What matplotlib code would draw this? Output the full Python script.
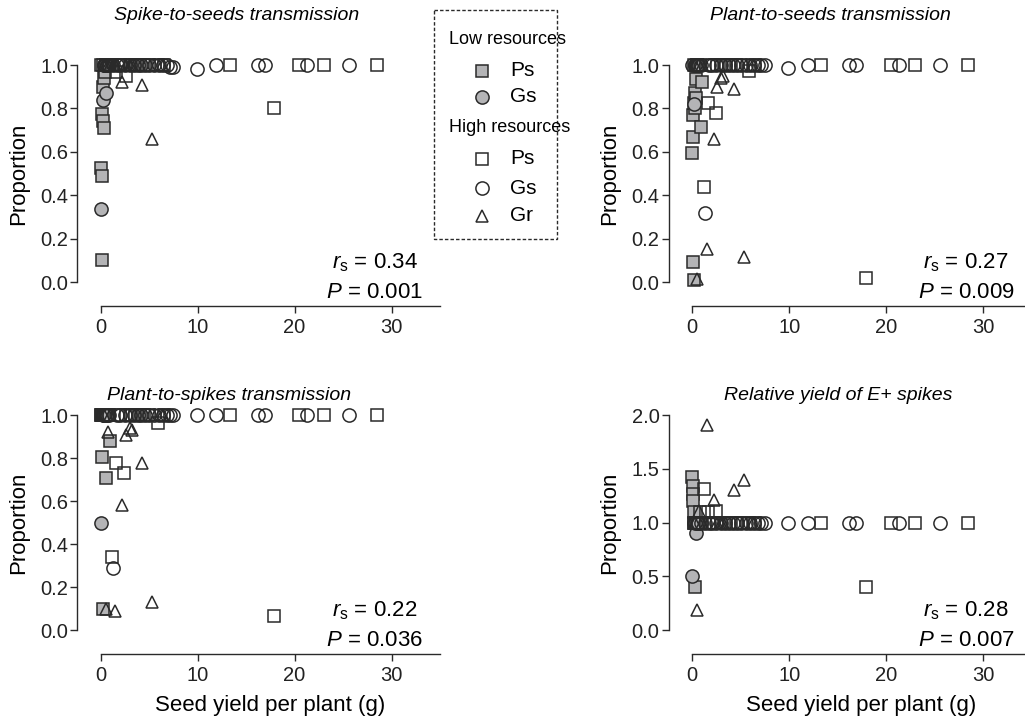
import matplotlib
matplotlib.use('Agg')
import matplotlib.pyplot as plt
from matplotlib.patches import Rectangle
from matplotlib.ticker import FormatStrFormatter

plt.rcParams['font.family'] = ['Liberation Sans', 'DejaVu Sans']
plt.rcParams['mathtext.fontset'] = 'custom'
plt.rcParams['mathtext.rm'] = 'Liberation Sans'
plt.rcParams['mathtext.it'] = 'Liberation Sans:italic'

# seed yield per plant (g), one entry per plant in each group
low_ps_x = [0.0, 0.05, 0.1, 0.1, 0.15, 0.2, 0.25, 0.3, 0.35, 0.4, 0.5, 0.6, 0.9, 1.0]
low_gs_x = [0.0, 0.2, 0.3, 0.4, 0.5, 0.6]
high_ps_x = [0.2, 0.5, 0.8, 1.2, 1.6, 2.0, 2.4, 2.6, 3.0, 3.5, 4.0, 4.5, 5.0, 5.9, 6.5,
             13.3, 17.9, 20.5, 23.0, 28.5]
high_gs_x = [0.3, 0.6, 0.9, 1.3, 1.7, 2.0, 2.5, 3.0, 3.4, 3.8, 4.2, 4.6, 5.0, 5.5, 6.0,
             6.4, 6.8, 7.1, 7.5, 9.9, 11.9, 16.2, 16.9, 21.3, 25.6]
high_gr_x = [0.3, 0.5, 0.7, 1.0, 1.5, 2.2, 2.6, 3.0, 3.2, 4.3, 5.3, 6.3]

# spike-to-seeds transmission
p1_low_ps = [1, 0.525, 0.775, 0.49, 0.10, 0.74, 0.90, 0.71, 0.94, 0.97, 1, 1, 1, 1]
p1_low_gs = [0.336, 0.84, 1, 1, 0.87, 1]
p1_high_ps = [1, 1, 1, 1, 0.97, 1, 1, 0.95, 1, 1, 1, 1, 1, 1, 1, 1, 0.80, 1, 1, 1]
p1_high_gs = [1] * 17 + [0.99, 0.99, 0.98, 1, 1, 1, 1, 1]
p1_high_gr = [1, 1, 1, 1, 1, 0.92, 1, 1, 1, 0.91, 0.66, 1]

# plant-to-seeds transmission
p2_low_ps = [0.594, 0.67, 0.77, 0.094, 0.825, 0.01, 0.80, 0.87, 0.934, 0.847, 1, 1, 0.714, 0.92]
p2_low_gs = [1, 0.82, 1, 1, 1, 1]
p2_high_ps = [1, 1, 1, 0.44, 0.825, 1, 0.78, 1, 1, 1, 1, 1, 1, 0.974, 1, 1, 0.02, 1, 1, 1]
p2_high_gs = [1, 1, 1, 0.32] + [1] * 15 + [0.985, 1, 1, 1, 1, 1]
p2_high_gr = [1, 0.014, 1, 1, 0.15, 0.66, 0.90, 0.94, 0.95, 0.89, 0.117, 1]

# plant-to-spikes transmission
p3_low_ps = [1, 1, 0.806, 1, 1, 1, 0.10, 1, 1, 1, 0.707, 1, 1, 0.879]
p3_low_gs = [0.50, 1, 1, 1, 1, 1]
p3_high_ps = [1, 1, 1, 0.34, 0.778, 1, 0.73, 1, 1, 1, 1, 1, 1, 0.964, 1, 1, 0.065, 1, 1, 1]
p3_high_gs = [1, 1, 1, 0.29] + [1] * 21
p3_high_gr = [1, 0.10, 0.92, 1, 0.09, 0.58, 0.907, 0.94, 0.93, 0.776, 0.13, 1]

# relative yield of E+ spikes
p4_low_ps = [1.42, 1.34, 1.27, 1.2, 1.1, 1, 1, 0.40, 1, 1, 1, 1, 1, 1]
p4_low_gs = [0.50, 1, 1, 0.90, 1, 1]
p4_high_ps = [1, 1, 1.1, 1.31, 1.1, 1, 1.11, 1, 1, 1, 1, 1, 1, 1, 1, 1, 0.40, 1, 1, 1]
p4_high_gs = [1] * 25
p4_high_gr = [1, 0.19, 1.11, 1, 1.91, 1.21, 1, 1, 1, 1.30, 1.40, 1]

titles = ['Spike-to-seeds transmission', 'Plant-to-seeds transmission',
          'Plant-to-spikes transmission', 'Relative yield of E+ spikes']
r_s = ['0.34', '0.27', '0.22', '0.28']
p_vals = ['0.001', '0.009', '0.036', '0.007']

panels = [
    (p1_low_ps, p1_low_gs, p1_high_ps, p1_high_gs, p1_high_gr),
    (p2_low_ps, p2_low_gs, p2_high_ps, p2_high_gs, p2_high_gr),
    (p3_low_ps, p3_low_gs, p3_high_ps, p3_high_gs, p3_high_gr),
    (p4_low_ps, p4_low_gs, p4_high_ps, p4_high_gs, p4_high_gr),
]

GRAY = '#b4b4b6'
EDGE = '#2a2a2a'
styles = [
    dict(marker='s', ms=9, mfc=GRAY, mec=EDGE),
    dict(marker='o', ms=9.5, mfc=GRAY, mec=EDGE),
    dict(marker='s', ms=9, mfc='none', mec=EDGE),
    dict(marker='o', ms=9.5, mfc='none', mec=EDGE),
    dict(marker='^', ms=9, mfc='none', mec=EDGE),
]
xs = [low_ps_x, low_gs_x, high_ps_x, high_gs_x, high_gr_x]

fig = plt.figure(figsize=(10.25, 7.18), dpi=100)
W, H = 1025.0, 718.0
rects = [
    (77, 305.9, 251.7),
    (668.5, 305.9, 251.7),
    (77, 653.7, 249.4),
    (668.5, 653.7, 249.4),
]
title_y = [15, 15, 395, 395]
title_x = [0.44, 0.445, 0.42, 0.467]

for i, (left, bot, hgt) in enumerate(rects):
    ax = fig.add_axes([left / W, (H - bot) / H, 363 / W, hgt / H])
    for x, y, st in zip(xs, panels[i], styles):
        ax.plot(x, y, linestyle='none', mew=1.1, clip_on=False, **st)
    ax.set_xlim(-2.45, 35)
    if i == 3:
        ax.set_ylim(-0.22, 2.1)
        ax.set_yticks([0, 0.5, 1.0, 1.5, 2.0])
        ax.spines['left'].set_bounds(0, 2)
    else:
        ax.set_ylim(-0.11, 1.05)
        ax.set_yticks([0, 0.2, 0.4, 0.6, 0.8, 1.0])
        ax.spines['left'].set_bounds(0, 1)
    ax.yaxis.set_major_formatter(FormatStrFormatter('%.1f'))
    ax.set_xticks([0, 10, 20, 30])
    ax.spines['bottom'].set_bounds(0, 35)
    ax.spines['top'].set_visible(False)
    ax.spines['right'].set_visible(False)
    for s in ('left', 'bottom'):
        ax.spines[s].set_linewidth(1.0)
        ax.spines[s].set_color(EDGE)
    ax.tick_params(axis='both', direction='out', length=5, width=1.0, color=EDGE,
                   labelsize=14.5, labelcolor='#222222')
    ax.tick_params(axis='x', pad=3.5)
    ax.tick_params(axis='y', pad=1.5)
    ax.set_ylabel('Proportion', fontsize=16)
    ax.yaxis.set_label_coords(-0.132, 0.526)
    if i >= 2:
        ax.set_xlabel('Seed yield per plant (g)', fontsize=16)
        ax.xaxis.set_label_coords(0.532, -0.166)
    ty = 1 + (bot - hgt - title_y[i]) / hgt
    ax.text(title_x[i], ty, titles[i], transform=ax.transAxes, ha='center', va='center',
            fontsize=14, style='italic')
    ax.text(0.82, 0.172, r'$r_{\rm s}$ = ' + r_s[i], transform=ax.transAxes,
            ha='center', va='center', fontsize=16)
    ax.text(0.82, 0.053, r'$P$ = ' + p_vals[i], transform=ax.transAxes,
            ha='center', va='center', fontsize=16)

# legend box
lg = fig.add_axes([434 / W, (H - 240) / H, 123 / W, 228 / H])
lg.set_xlim(434, 557)
lg.set_ylim(240, 12)
lg.axis('off')
lg.add_patch(Rectangle((434.5, 10), 122, 229.5, fill=False, linestyle=(0, (2.5, 1.5)),
                       linewidth=1.0, edgecolor=EDGE, clip_on=False))
lg.text(449, 40, 'Low resources', fontsize=13, va='center', ha='left')
lg.text(449, 127, 'High resources', fontsize=13, va='center', ha='left')
rows = [(71, 0, 'Ps'), (97, 1, 'Gs'), (159, 2, 'Ps'), (188, 3, 'Gs'), (216, 4, 'Gr')]
for yy, k, lab in rows:
    lg.plot([482], [yy], linestyle='none', mew=1.1, clip_on=False, **styles[k])
    lg.text(510, yy, lab, fontsize=15, va='center', ha='left')

fig.savefig('out.png', dpi=100)
